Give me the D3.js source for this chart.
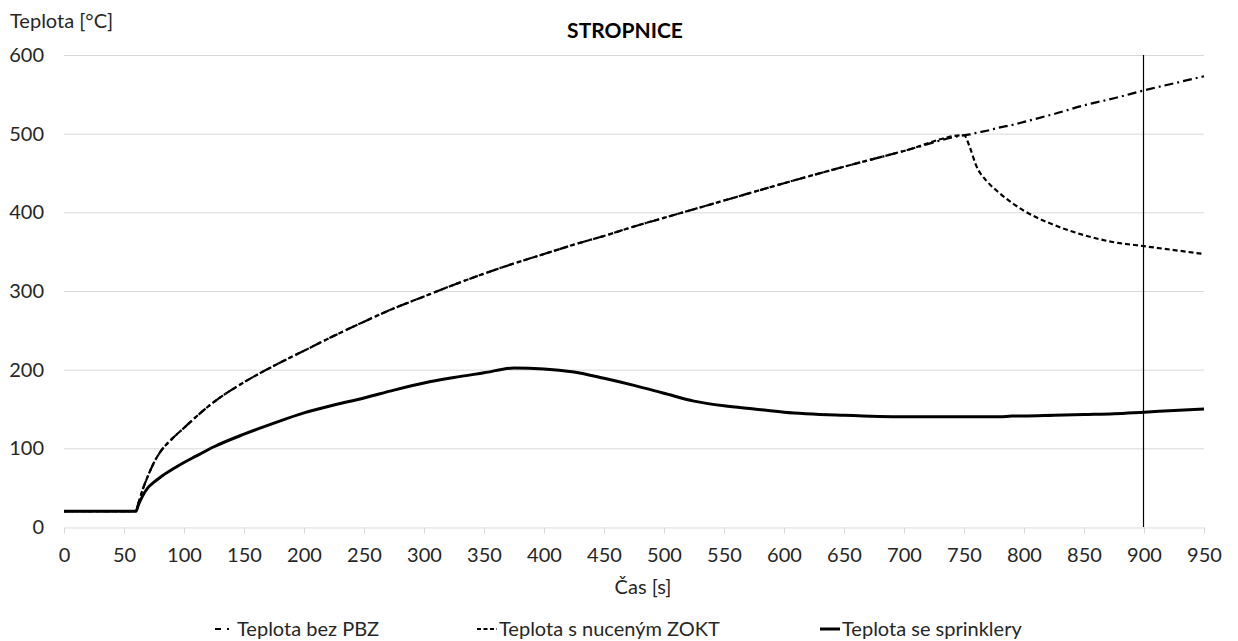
<!DOCTYPE html>
<meta charset="utf-8">
<style>

body {
  margin: 0;
  background: #fff;
}

text {
  font-family: Lato, "Open Sans", sans-serif;
  fill: #262626;
}

.tick text {
  font-size: 20px;
}

.grid line {
  stroke: #d9d9d9;
}

</style>
<svg width="1238" height="641"></svg>
<script src="https://d3js.org/d3.v7.min.js"></script>
<script>

// time [s]
let times = [0, 60, 62, 65, 70, 75, 80, 90, 100, 110, 125, 150, 175, 200, 225, 250, 275, 300,
  325, 350, 375, 400, 425, 450, 475, 500, 525, 550, 575, 600, 650, 700, 750, 755, 760, 770,
  780, 790, 800, 825, 850, 875, 900, 925, 950];

// Teplota bez PBZ
let bezPBZ = [20, 20, 30, 45, 65, 82, 95, 112, 126, 140, 159, 184, 205, 224, 243, 261, 278, 293,
  308, 322, 335, 347, 359, 370, 382, 393, 404, 415, 426, 437, 458, 478, 498, 499, 501, 504,
  508, 511, 515, 525, 536, 545, 555, 564, 573];

// Teplota s nuceným ZOKT
let zokt = [20, 20, 30, 45, 65, 82, 95, 112, 126, 140, 159, 184, 205, 224, 243, 261, 278, 293,
  308, 322, 335, 347, 359, 370, 382, 393, 404, 415, 426, 437, 458, 478, 498, 482, 460, 438,
  424, 412, 402, 384, 371, 362, 357, 352, 347];

// Teplota se sprinklery
let sprinkler = [20, 20, 28, 38, 50, 57, 63, 73, 82, 90, 102, 118, 132, 145, 155, 164, 174, 183,
  190, 196, 202, 201, 197, 189, 180, 170, 160, 154, 150, 146, 142, 140, 140, 140, 140, 140,
  140, 141, 141, 142, 143, 144, 146, 148, 150];

let xTicks = d3.range(0, 951, 50);
let yTicks = [0, 100, 200, 300, 400, 500, 600];
let markerTime = 900;

let series = [
  { name: 'Teplota bez PBZ', values: bezPBZ, dash: '9,4,2,4', width: 2.2, legendDash: '6,6,2,6', lx: 215 },
  { name: 'Teplota s nuceným ZOKT', values: zokt, dash: '5,3', width: 2.2, legendDash: '4,2.5', lx: 477 },
  { name: 'Teplota se sprinklery', values: sprinkler, dash: null, width: 3, legendDash: null, lx: 820 }
];

let svg = d3.select('svg');
let margin = { left: 64, right: 34, top: 55, bottom: 114 };
let width = +svg.attr('width');
let height = +svg.attr('height');

let x = d3.scaleLinear().domain([0, 950]).range([margin.left, width - margin.right]);
let y = d3.scaleLinear().domain([0, 600]).range([height - margin.bottom, margin.top]);

// horizontal gridlines
svg.append('g')
    .attr('class', 'grid')
  .selectAll('line')
  .data(yTicks.slice(1))
  .enter().append('line')
    .attr('x1', x(0))
    .attr('x2', x(950))
    .attr('y1', d => y(d) + 0.5)
    .attr('y2', d => y(d) + 0.5);

// x axis
let xAxis = svg.append('g')
    .attr('transform', 'translate(0,' + (y(0) + 0.5) + ')')
    .call(d3.axisBottom(x).tickValues(xTicks).tickSizeInner(6).tickSizeOuter(0).tickPadding(14));
xAxis.select('.domain').attr('stroke', '#d9d9d9');
xAxis.selectAll('.tick line').attr('stroke', '#d9d9d9');

// y axis labels only
let yAxis = svg.append('g')
    .attr('transform', 'translate(' + (x(0) - 20) + ',0)')
    .call(d3.axisLeft(y).tickValues(yTicks).tickSize(0).tickPadding(0));
yAxis.select('.domain').remove();

// vertical marker at 900 s
svg.append('line')
    .attr('x1', Math.round(x(markerTime)) - 0.5)
    .attr('x2', Math.round(x(markerTime)) - 0.5)
    .attr('y1', y(600))
    .attr('y2', y(0))
    .attr('stroke', '#000')
    .attr('stroke-width', 1.2);

let line = d3.line()
    .x((d, i) => x(times[i]))
    .y(d => y(d))
    .curve(d3.curveMonotoneX);

svg.selectAll('.series')
  .data(series)
  .enter().append('path')
    .attr('class', 'series')
    .attr('fill', 'none')
    .attr('stroke', '#000')
    .attr('stroke-width', d => d.width)
    .attr('stroke-dasharray', d => d.dash)
    .attr('stroke-linejoin', 'round')
    .attr('d', d => line(d.values));

// titles
svg.append('text')
    .attr('x', 625)
    .attr('y', 38)
    .attr('text-anchor', 'middle')
    .style('font-size', '21px')
    .style('font-weight', 'bold')
    .style('fill', '#000')
    .text('STROPNICE');

svg.append('text')
    .attr('x', 10)
    .attr('y', 28)
    .style('font-size', '20px')
    .text('Teplota [°C]');

svg.append('text')
    .attr('x', 643)
    .attr('y', 594)
    .attr('text-anchor', 'middle')
    .style('font-size', '20px')
    .text('Čas [s]');

// legend
let legend = svg.selectAll('.legend')
  .data(series)
  .enter().append('g')
    .attr('class', 'legend')
    .attr('transform', d => 'translate(' + d.lx + ',0)');

legend.append('line')
    .attr('x1', 0)
    .attr('x2', 20)
    .attr('y1', 629)
    .attr('y2', 629)
    .attr('stroke', '#000')
    .attr('stroke-width', d => d.width)
    .attr('stroke-dasharray', d => d.legendDash);

legend.append('text')
    .attr('x', 22)
    .attr('y', 636)
    .style('font-size', '20px')
    .text(d => d.name);

</script>
